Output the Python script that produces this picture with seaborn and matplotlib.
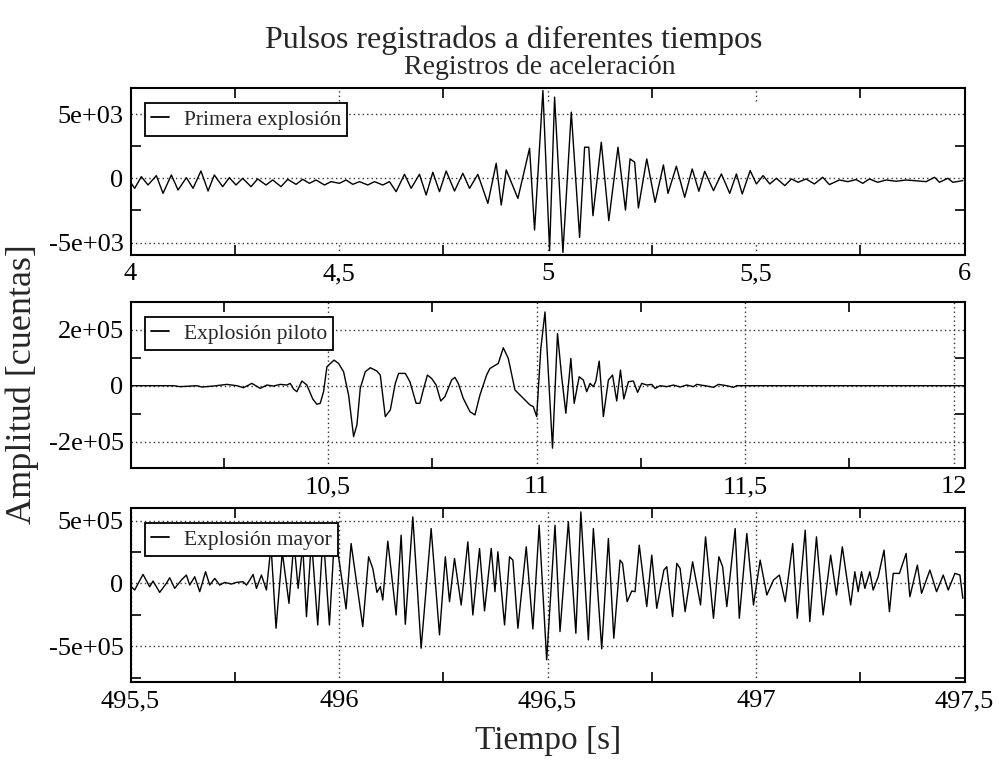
import matplotlib
matplotlib.use("Agg")
import matplotlib.pyplot as plt
import seaborn as sns
import pandas as pd

# ---------------- data ----------------
title = "Pulsos registrados a diferentes tiempos"
subtitle = "Registros de aceleración"
ylabel = "Amplitud [cuentas]"
xlabel = "Tiempo [s]"
names = ["Primera explosión", "Explosión piloto", "Explosión mayor"]

t1 = [4.000, 4.010, 4.026, 4.042, 4.062, 4.078, 4.098, 4.114, 4.134, 4.150,
      4.169, 4.186, 4.201, 4.221, 4.237, 4.253, 4.269, 4.289, 4.305, 4.325,
      4.341, 4.361, 4.377, 4.397, 4.413, 4.429, 4.445, 4.465, 4.481, 4.501,
      4.517, 4.533, 4.549, 4.569, 4.585, 4.605, 4.621, 4.637, 4.657, 4.673,
      4.693, 4.709, 4.725, 4.741, 4.757, 4.777, 4.797, 4.813, 4.833, 4.857,
      4.877, 4.889, 4.901, 4.929, 4.957, 4.969, 4.989, 5.005, 5.017, 5.037,
      5.057, 5.077, 5.089, 5.099, 5.109, 5.129, 5.147, 5.169, 5.187, 5.198,
      5.209, 5.218, 5.238, 5.258, 5.278, 5.289, 5.309, 5.329, 5.347, 5.363,
      5.377, 5.398, 5.417, 5.437, 5.453, 5.467, 5.486, 5.501, 5.517, 5.533,
      5.549, 5.569, 5.585, 5.601, 5.620, 5.640, 5.660, 5.676, 5.700, 5.720,
      5.740, 5.756, 5.772, 5.792, 5.812, 5.836, 5.860, 5.908, 5.928, 5.940,
      5.960, 5.972, 5.996]
a1 = [-300, -780, 130, -520, 210, -1170, 260, -910, 50, -780,
      570, -990, 260, -650, 50, -520, 0, -650, -50, -520,
      -130, -650, -80, -470, -80, -390, -130, -520, -260, -390,
      -130, -470, -260, -520, -260, -520, -260, -1040, 310, -780,
      310, -1300, 470, -1040, 570, -990, 390, -780, 310, -1950,
      1170, -2080, 650, -1560, 2340, -4030, 6840, -5640, 6320, -5770,
      5150, -4600, 2420, 2420, -2910, 2810, -3300, 2420, -2470, 1510,
      1250, -2310, 1510, -1870, 1040, -1170, 940, -1480, 730, -1010,
      550, -960, 340, -1170, 340, -1220, 600, -440, 210, -440,
      0, -570, -50, -310, -50, -440, 80, -490, -130, -260,
      -100, -390, -50, -310, -130, -230, -130, -260, 80, -310,
      0, -310, -180]

t2 = [10.026, 10.129, 10.145, 10.185, 10.197, 10.225, 10.257, 10.281, 10.297, 10.317,
      10.337, 10.353, 10.369, 10.385, 10.401, 10.409, 10.417, 10.425, 10.437, 10.449,
      10.463, 10.473, 10.481, 10.489, 10.497, 10.514, 10.525, 10.537, 10.549, 10.561,
      10.569, 10.577, 10.589, 10.601, 10.617, 10.625, 10.637, 10.649, 10.661, 10.669,
      10.685, 10.696, 10.711, 10.720, 10.728, 10.738, 10.748, 10.759, 10.770, 10.780,
      10.796, 10.804, 10.812, 10.824, 10.840, 10.852, 10.864, 10.880, 10.888, 10.908,
      10.920, 10.932, 10.948, 10.964, 10.984, 10.992, 11.000, 11.010, 11.020, 11.038,
      11.050, 11.060, 11.070, 11.082, 11.090, 11.102, 11.112, 11.120, 11.128, 11.136,
      11.142, 11.150, 11.160, 11.172, 11.182, 11.192, 11.201, 11.209, 11.220, 11.232,
      11.242, 11.252, 11.264, 11.276, 11.284, 11.296, 11.312, 11.328, 11.344, 11.360,
      11.376, 11.384, 11.408, 11.424, 11.436, 11.456, 11.472, 11.480, 12.026]
a2 = [0, 0, -3500, 0, -4700, -1200, 4700, 0, -7100, 8300,
      -9500, 2400, -1200, 4700, 2400, 8300, -11800, -21300, 16600, 2400,
      -47300, -66200, -62700, -21300, 67400, 91100, 79300, 49700, -33100, -181000,
      -139600, -9500, 49700, 63900, 52100, 37900, -110000, -86400, 8300, 43800,
      43800, 14200, -62700, -62700, -15400, 37900, 26000, 2400, -54400, -39000,
      20100, 29600, 8300, -45000, -92300, -104100, -33100, 37900, 61500, 79300,
      134900, 97000, -15400, -39000, -68600, -74500, -110000, 132500, 262600, -222400,
      185700, 31900, -98200, 97000, -62700, 31900, 20100, -21300, 8300, -3500,
      16600, 87500, -110000, 20100, 37900, -54400, 55600, -47300, 14200, 16600,
      -23700, 8300, 2400, 4700, -9500, 0, -3500, 2400, -4700, 2400,
      -3500, 4700, -1200, -5900, 4700, 0, -5900, 0, 0]

t3 = [495.498, 495.510, 495.530, 495.546, 495.554, 495.570, 495.586, 495.594, 495.606, 495.622,
      495.634, 495.642, 495.654, 495.666, 495.680, 495.690, 495.702, 495.714, 495.726, 495.742,
      495.754, 495.770, 495.778, 495.786, 495.794, 495.802, 495.814, 495.826, 495.837, 495.849,
      495.864, 495.880, 495.892, 495.902, 495.913, 495.922, 495.934, 495.949, 495.962, 495.977,
      495.990, 496.017, 496.029, 496.057, 496.071, 496.081, 496.091, 496.099, 496.105, 496.117,
      496.137, 496.149, 496.159, 496.177, 496.197, 496.221, 496.241, 496.255, 496.265, 496.277,
      496.293, 496.309, 496.321, 496.337, 496.349, 496.365, 496.374, 496.381, 496.397, 496.409,
      496.417, 496.429, 496.449, 496.465, 496.480, 496.498, 496.518, 496.530, 496.550, 496.568,
      496.580, 496.598, 496.610, 496.630, 496.646, 496.659, 496.674, 496.680, 496.691, 496.702,
      496.710, 496.720, 496.738, 496.750, 496.762, 496.779, 496.786, 496.800, 496.810, 496.818,
      496.830, 496.848, 496.867, 496.879, 496.898, 496.911, 496.920, 496.930, 496.950, 496.960,
      496.978, 496.994, 497.010, 497.026, 497.042, 497.056, 497.070, 497.088, 497.099, 497.118,
      497.129, 497.145, 497.161, 497.179, 497.193, 497.207, 497.227, 497.237, 497.245, 497.253,
      497.261, 497.273, 497.281, 497.293, 497.307, 497.320, 497.329, 497.344, 497.360, 497.369,
      497.387, 497.397, 497.417, 497.433, 497.449, 497.461, 497.477, 497.489, 497.496]
a3 = [-13200, -52900, 71400, -26500, 18500, -71400, 0, 45000, -39700, 26500,
      66200, -13200, 52900, -66200, 92600, -13200, 39700, -13200, 7900, -5300,
      7900, 13200, -13200, 26500, 71400, -39700, 66200, -52900, 300000, -357000,
      250000, -159000, 330000, -40000, 300000, -265000, 350000, -331000, 400000, -331000,
      420000, -203700, 317500, -344000, 211700, 119100, -71400, -26500, -132300, 336000,
      -251400, 383700, -325500, 529200, -516000, 436600, -410100, 211700, -145500, 198500,
      -172000, 330800, -251400, 277800, -219600, 277800, -66200, 251400, -330800, 211700,
      185200, -357200, 291100, -362500, 463100, -608600, 463100, -383700, 489500, -396900,
      568900, -449800, 436600, -521300, 357200, -436600, 185200, 158800, -145500, -60900,
      -66200, 304300, -185200, 224900, -198500, 105800, 132300, -264600, 158800, 119100,
      -224900, 172000, -172000, 370400, -277800, 211700, 132300, -185200, 436600, -277800,
      396900, -172000, 185200, -92600, 26500, 66200, -145500, 317500, -277800, 423400,
      -304300, 370400, -251400, 224900, -92600, 291100, -172000, 92600, -66200, 92600,
      -39700, 92600, -52900, 52900, 264600, -224900, 79400, 79400, 238100, -105800,
      145500, -79400, 105800, -66200, 66200, -52900, 79400, 66200, -119100]

# axis ticks / labels
x1_major = [4, 4.5, 5, 5.5, 6]
x1_labels = ["4", "4,5", "5", "5,5", "6"]
x1_minor = [4.25, 4.75, 5.25, 5.75]
y1_major = [-5000, 0, 5000]
y1_labels = ["-5e+03", "0", "5e+03"]
y1_minor = [-2500, 2500]

x2_major = [10.5, 11, 11.5, 12]
x2_labels = ["10,5", "11", "11,5", "12"]
x2_minor = [10.25, 10.75, 11.25, 11.75]
y2_major = [-200000, 0, 200000]
y2_labels = ["-2e+05", "0", "2e+05"]
y2_minor = [-100000, 100000]

x3_major = [495.5, 496, 496.5, 497, 497.5]
x3_labels = ["495,5", "496", "496,5", "497", "497,5"]
x3_minor = [495.75, 496.25, 496.75, 497.25]
y3_major = [-500000, 0, 500000]
y3_labels = ["-5e+05", "0", "5e+05"]
y3_minor = [-750000, -250000, 250000]

# ---------------- style ----------------
sns.set_theme(style="ticks")
plt.rcParams["font.family"] = ["Liberation Serif", "DejaVu Serif"]

fig = plt.figure(figsize=(9.99, 7.61), dpi=100)
left, width = 130.5 / 999, 834 / 999
H = 761.0
boxes = [(88, 255), (302, 468), (508, 682)]
axes = [fig.add_axes([left, 1 - b / H, width, (b - t) / H]) for t, b in boxes]

panels = [
    (t1, a1, names[0], (4, 6), (-5970, 7030), x1_major, x1_labels, x1_minor,
     y1_major, y1_labels, y1_minor, False),
    (t2, a2, names[1], (10.026, 12.026), (-293000, 298000), x2_major, x2_labels, x2_minor,
     y2_major, y2_labels, y2_minor, True),
    (t3, a3, names[2], (495.5, 497.5), (-785000, 600000), x3_major, x3_labels, x3_minor,
     y3_major, y3_labels, y3_minor, True),
]

dot = (0, (1.0, 2.2))
for ax, (tt, aa, name, xl, yl, xmj, xlb, xmn, ymj, ylb, ymn, fullgrid) in zip(axes, panels):
    df = pd.DataFrame({"t": tt, "a": aa})
    sns.lineplot(data=df, x="t", y="a", ax=ax, color="black", linewidth=1.0,
                 estimator=None, sort=False, label=name, zorder=3)
    ax.set_xlim(*xl)
    ax.set_ylim(*yl)
    ax.set_xticks(xmj)
    ax.set_xticklabels(xlb)
    ax.set_xticks(xmn, minor=True)
    ax.set_yticks(ymj)
    ax.set_yticklabels(ylb)
    ax.set_yticks(ymn, minor=True)
    ax.set_xlabel("")
    ax.set_ylabel("")
    ax.tick_params(which="major", length=0, labelsize=19, colors="black")
    ax.tick_params(axis="x", which="major", pad=6)
    ax.tick_params(axis="y", which="major", pad=5)
    ax.tick_params(which="minor", direction="in", length=7, width=1.2, color="black",
                   top=True, bottom=True, left=True, right=True)
    ax.grid(False)
    ax.grid(True, axis="y", which="major", linestyle=dot, color="0.2", linewidth=1.0)
    if fullgrid:
        ax.grid(True, axis="x", which="major", linestyle=dot, color="0.2", linewidth=1.0)
    else:
        for xv in xmj[1:-1]:
            ax.axvline(xv, ymin=0, ymax=0.08, linestyle=dot, color="0.2", linewidth=1.0)
            ax.axvline(xv, ymin=0.92, ymax=1, linestyle=dot, color="0.2", linewidth=1.0)
    for s in ax.spines.values():
        s.set_visible(True)
        s.set_color("black")
        s.set_linewidth(1.5)
        s.set_zorder(5)

tops = [(255 - 103) / 167, (468 - 317) / 166, (682 - 523) / 174]
for ax, tp in zip(axes, tops):
    leg = ax.legend(loc="upper left", bbox_to_anchor=(0.0174, tp), borderaxespad=0,
                    fontsize=15.5, frameon=True, fancybox=False, shadow=False,
                    handlelength=0.8, handletextpad=0.7, borderpad=0.3, framealpha=1)
    fr = leg.get_frame()
    fr.set_edgecolor("black")
    fr.set_linewidth(1.3)
    fr.set_facecolor("white")
    leg.set_zorder(6)
    for ln in leg.get_lines():
        ln.set_linewidth(1.3)

fig.text(514 / 999, 1 - 48 / H, title, ha="center", va="baseline", fontsize=23)
fig.text(540 / 999, 1 - 74 / H, subtitle, ha="center", va="baseline", fontsize=20)
fig.text(22 / 999, 1 - 384 / H, ylabel, ha="center", va="center", rotation=90, fontsize=26)
fig.text(548 / 999, 1 - 741 / H, xlabel, ha="center", va="center", fontsize=24)

fig.savefig("out.png", dpi=100)
